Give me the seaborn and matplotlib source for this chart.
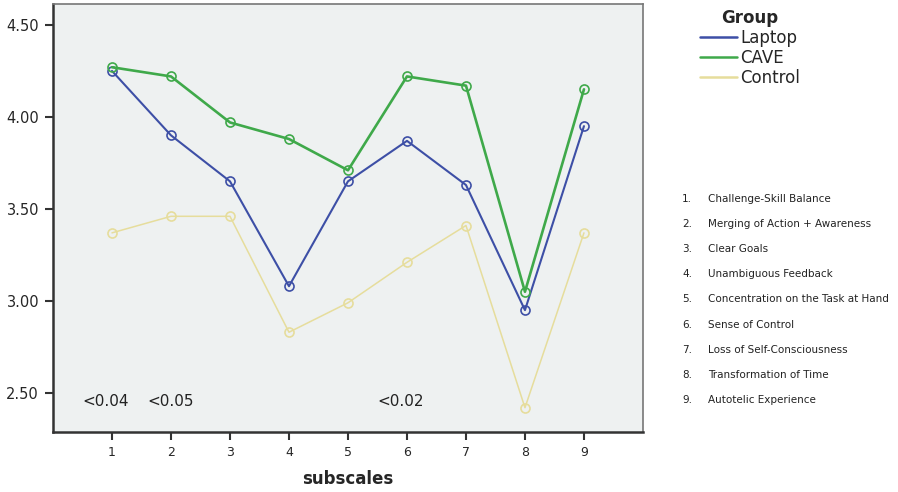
import numpy as np
import pandas as pd
import matplotlib
matplotlib.use("Agg")
import matplotlib.pyplot as plt
import seaborn as sns
from matplotlib.lines import Line2D

subscales = [1, 2, 3, 4, 5, 6, 7, 8, 9]
laptop = [4.25, 3.90, 3.65, 3.08, 3.65, 3.87, 3.63, 2.95, 3.95]
cave = [4.27, 4.22, 3.97, 3.88, 3.71, 4.22, 4.17, 3.05, 4.15]
control = [3.37, 3.46, 3.46, 2.83, 2.99, 3.21, 3.41, 2.42, 3.37]
groups = ["Laptop", "CAVE", "Control"]
colors = {"Laptop": "#3d4fa6", "CAVE": "#3fa94a", "Control": "#e6dd9c"}
pvals = [(0.9, "<0.04"), (2.0, "<0.05"), (5.9, "<0.02")]
subscale_names = [
    "Challenge-Skill Balance",
    "Merging of Action + Awareness",
    "Clear Goals",
    "Unambiguous Feedback",
    "Concentration on the Task at Hand",
    "Sense of Control",
    "Loss of Self-Consciousness",
    "Transformation of Time",
    "Autotelic Experience",
]

df = pd.DataFrame({
    "subscale": subscales * 3,
    "mean": laptop + cave + control,
    "Group": ["Laptop"] * 9 + ["CAVE"] * 9 + ["Control"] * 9,
})

sns.set_style("white")
plt.rcParams["font.family"] = ["DejaVu Sans"]

fig = plt.figure(figsize=(8.98, 4.92), dpi=100)
ax = fig.add_axes([0.059, 0.122, 0.657, 0.870])
ax.set_facecolor("#eef1f1")

widths = {"Laptop": 1.5, "CAVE": 1.9, "Control": 1.1}
for g in groups:
    sub = df[df["Group"] == g]
    sns.lineplot(data=sub, x="subscale", y="mean", ax=ax, color=colors[g],
                 linewidth=widths[g], marker="o", markersize=6.5,
                 markerfacecolor="none", markeredgecolor=colors[g],
                 markeredgewidth=1.2, legend=False)

ax.set_xlim(0, 10)
ax.set_ylim(2.288, 4.614)
ax.set_xticks(subscales)
ax.set_xticklabels([str(s) for s in subscales], fontsize=9)
ax.set_yticks([2.5, 3.0, 3.5, 4.0, 4.5])
ax.set_yticklabels(["2.50", "3.00", "3.50", "4.00", "4.50"], fontsize=10.5)
ax.tick_params(axis="both", direction="out", length=6, width=1.5, color="#333333",
               pad=4, bottom=True, left=True)
ax.set_xlabel("subscales", fontsize=12, fontweight="bold", labelpad=8)
ax.set_ylabel("")

for side in ["left", "bottom"]:
    ax.spines[side].set_color("#333333")
    ax.spines[side].set_linewidth(1.8)
for side in ["top", "right"]:
    ax.spines[side].set_color("#777777")
    ax.spines[side].set_linewidth(1.2)

for x, t in pvals:
    ax.text(x, 2.455, t, fontsize=11, ha="center", va="center", color="#222222")

handles = [Line2D([0], [0], color=colors[g], linewidth=1.8) for g in groups]
leg = fig.legend(handles, groups, loc="upper left", bbox_to_anchor=(0.772, 0.995),
                 frameon=False, fontsize=12, title="Group", handlelength=2.2,
                 handletextpad=0.2, labelspacing=0.12, borderaxespad=0)
leg.get_title().set_fontweight("bold")
leg.get_title().set_fontsize(12)

for i, name in enumerate(subscale_names):
    y = 1 - (199 + i * 25.1) / 492
    fig.text(682 / 898, y, f"{i + 1}.", fontsize=7.5, va="center", ha="left", color="#222222")
    fig.text(708 / 898, y, name, fontsize=7.5, va="center", ha="left", color="#222222")

fig.savefig("out.png", dpi=100)
